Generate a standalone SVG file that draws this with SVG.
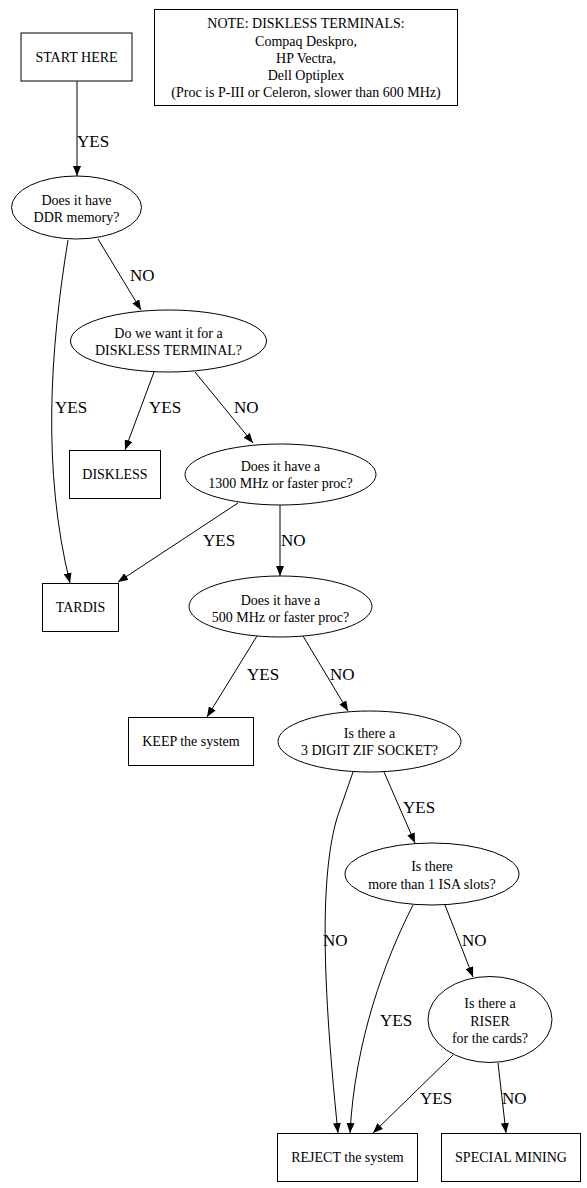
<svg xmlns="http://www.w3.org/2000/svg" width="587" height="1188" viewBox="0 0 587 1188">
<style>
.n{fill:#fff;stroke:#000;stroke-width:1}
.t{font-family:"Liberation Serif","Times New Roman",serif;font-size:14px;text-anchor:middle;fill:#000}
.e{fill:none;stroke:#000;stroke-width:1}
.l{font-family:"Liberation Serif","Times New Roman",serif;font-size:17px;fill:#000}
</style>
<defs>
<marker id="a" viewBox="0 0 10 8" refX="10" refY="4" markerWidth="10" markerHeight="8" markerUnits="userSpaceOnUse" orient="auto">
<path d="M0,0 L10,4 L0,8 z" fill="#000"/>
</marker>
</defs>
<rect width="587" height="1188" fill="#fff"/>
<g id="edges">
<path class="e" marker-end="url(#a)" d="M77,81 L77,176"/>
<path class="e" marker-end="url(#a)" d="M98,239 L141,310"/>
<path class="e" marker-end="url(#a)" d="M68,240 C50,350 42,470 70,583"/>
<path class="e" marker-end="url(#a)" d="M154,372 L125,450"/>
<path class="e" marker-end="url(#a)" d="M195,372 L253,443"/>
<path class="e" marker-end="url(#a)" d="M238,503 L118,582"/>
<path class="e" marker-end="url(#a)" d="M280,505 L280,576"/>
<path class="e" marker-end="url(#a)" d="M257,636 L207,717"/>
<path class="e" marker-end="url(#a)" d="M303,636 L348,711"/>
<path class="e" marker-end="url(#a)" d="M353,772 L337,818 C322,870 320,960 338,1133"/>
<path class="e" marker-end="url(#a)" d="M384,772 L415,843"/>
<path class="e" marker-end="url(#a)" d="M413,905 C385,960 355,1040 350,1133"/>
<path class="e" marker-end="url(#a)" d="M445,905 L473,977"/>
<path class="e" marker-end="url(#a)" d="M453,1055 L373,1133"/>
<path class="e" marker-end="url(#a)" d="M498,1063 L506,1133"/>
<text class="l" x="77" y="147">YES</text>
<text class="l" x="130" y="281">NO</text>
<text class="l" x="55" y="413">YES</text>
<text class="l" x="149" y="413">YES</text>
<text class="l" x="234" y="413">NO</text>
<text class="l" x="203" y="546">YES</text>
<text class="l" x="281" y="546">NO</text>
<text class="l" x="247" y="680">YES</text>
<text class="l" x="330" y="680">NO</text>
<text class="l" x="403" y="813">YES</text>
<text class="l" x="323" y="946">NO</text>
<text class="l" x="462" y="946">NO</text>
<text class="l" x="380" y="1026">YES</text>
<text class="l" x="420" y="1104">YES</text>
<text class="l" x="502" y="1104">NO</text>
</g>
<g id="start"><rect class="n" x="21" y="33" width="111" height="48"/><text class="t" x="76.5" y="62">START HERE</text></g>
<g id="note"><rect class="n" x="154.5" y="9.5" width="303" height="96"/>
<text class="t" x="306" y="28">NOTE: DISKLESS TERMINALS:</text>
<text class="t" x="306" y="46">Compaq Deskpro,</text>
<text class="t" x="306" y="63">HP Vectra,</text>
<text class="t" x="306" y="80">Dell Optiplex</text>
<text class="t" x="306" y="97">(Proc is P-III or Celeron, slower than 600 MHz)</text></g>
<g id="ddr"><ellipse class="n" cx="76.5" cy="207.5" rx="65" ry="31.5"/><text class="t" x="76.5" y="205">Does it have</text><text class="t" x="76.5" y="222">DDR memory?</text></g>
<g id="diskterm"><ellipse class="n" cx="168.5" cy="341" rx="98" ry="31"/><text class="t" x="168.5" y="338">Do we want it for a</text><text class="t" x="168.5" y="355">DISKLESS TERMINAL?</text></g>
<g id="diskless"><rect class="n" x="69.5" y="450.5" width="91" height="48"/><text class="t" x="115" y="479">DISKLESS</text></g>
<g id="mhz1300"><ellipse class="n" cx="280.5" cy="474.5" rx="95.5" ry="30.5"/><text class="t" x="280.5" y="471">Does it have a</text><text class="t" x="280.5" y="488">1300 MHz or faster proc?</text></g>
<g id="tardis"><rect class="n" x="42.5" y="583.5" width="76" height="48"/><text class="t" x="80.5" y="612">TARDIS</text></g>
<g id="mhz500"><ellipse class="n" cx="280.5" cy="606.5" rx="91.5" ry="30.5"/><text class="t" x="280.5" y="605">Does it have a</text><text class="t" x="280.5" y="622">500 MHz or faster proc?</text></g>
<g id="keep"><rect class="n" x="128.5" y="717.5" width="125" height="48"/><text class="t" x="191" y="746">KEEP the system</text></g>
<g id="zif"><ellipse class="n" cx="369.5" cy="741.5" rx="91.5" ry="30.5"/><text class="t" x="369.5" y="738">Is there a</text><text class="t" x="369.5" y="755">3 DIGIT ZIF SOCKET?</text></g>
<g id="isa"><ellipse class="n" cx="432" cy="874" rx="87" ry="31"/><text class="t" x="432" y="871">Is there</text><text class="t" x="432" y="889">more than 1 ISA slots?</text></g>
<g id="riser"><ellipse class="n" cx="490" cy="1019.5" rx="62" ry="43"/><text class="t" x="490" y="1008">Is there a</text><text class="t" x="490" y="1026">RISER</text><text class="t" x="490" y="1043">for the cards?</text></g>
<g id="reject"><rect class="n" x="277.5" y="1133.5" width="140" height="48"/><text class="t" x="347.5" y="1162">REJECT the system</text></g>
<g id="special"><rect class="n" x="441.5" y="1133.5" width="139" height="48"/><text class="t" x="511" y="1162">SPECIAL MINING</text></g>
</svg>
